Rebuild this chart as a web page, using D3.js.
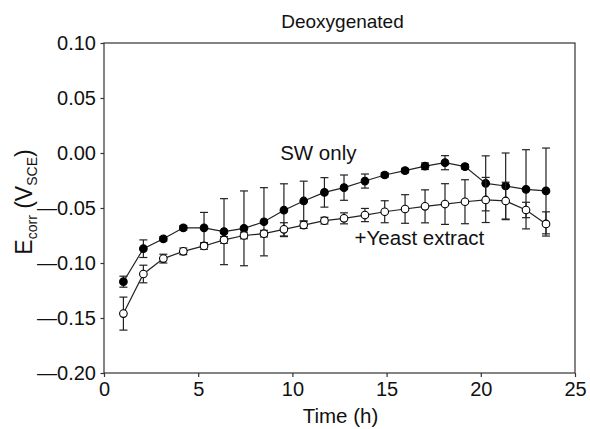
<!DOCTYPE html>
<html>
<head>
<meta charset="utf-8">
<script src="https://cdn.jsdelivr.net/npm/d3@7"></script>
<style>
  body { margin: 0; background: #fff; }
  text { font-family: "Liberation Sans", Arial, Helvetica, sans-serif; fill: #111; }
</style>
</head>
<body>
<div id="chart"></div>
<script>
// time (h)
var times = [1.03, 2.09, 3.15, 4.21, 5.31, 6.37, 7.43, 8.49, 9.55, 10.6, 11.7,
             12.74, 13.85, 14.9, 15.98, 17.04, 18.1, 19.16, 20.26, 21.32, 22.4, 23.46];

// SW only (filled)
var swOnly = [-0.117, -0.087, -0.078, -0.068, -0.068, -0.0715, -0.0685, -0.0625, -0.052, -0.0436, -0.0358,
              -0.0315, -0.0255, -0.020, -0.016, -0.012, -0.0088, -0.0124, -0.0276, -0.030, -0.033, -0.0345];
var swErr = [0.005, 0.008, 0.002, 0.002, 0.014, 0.030, 0.034, 0.031, 0.024, 0.018, 0.0134,
             0.0115, 0.0064, 0.002, 0.002, 0.003, 0.0064, 0.002, 0.025, 0.030, 0.036, 0.039];

// +Yeast extract (open)
var yeast = [-0.146, -0.110, -0.096, -0.0894, -0.0845, -0.079, -0.075, -0.0733, -0.0694, -0.0655, -0.0615,
             -0.0594, -0.0564, -0.0534, -0.0509, -0.0485, -0.0464, -0.0443, -0.0427, -0.0436, -0.0518, -0.0645];
var yeastErr = [0.015, 0.008, 0.004, 0.003, 0.003, 0.003, 0.003, 0.003, 0.006, 0.003, 0.003,
                0.005, 0.006, 0.010, 0.013, 0.015, 0.0185, 0.020, 0.0205, 0.017, 0.007, 0.011];

var xTicks = [0, 5, 10, 15, 20, 25];
var yTicks = [-0.20, -0.15, -0.10, -0.05, 0.00, 0.05, 0.10];

var margin = { top: 43, right: 15, bottom: 56, left: 104 };
var width = 590 - margin.left - margin.right,
    height = 429 - margin.top - margin.bottom;

var svg = d3.select("#chart").append("svg")
    .attr("width", 590)
    .attr("height", 429)
  .append("g")
    .attr("transform", "translate(" + margin.left + "," + margin.top + ")");

var x = d3.scaleLinear().domain([0, 25]).range([0, width]);
var y = d3.scaleLinear().domain([-0.20, 0.10]).range([height, 0]);

// frame
svg.append("rect")
    .attr("width", width)
    .attr("height", height)
    .attr("fill", "none")
    .attr("stroke", "#333")
    .attr("stroke-width", 1.2);

var xAxis = d3.axisBottom(x).tickValues(xTicks).tickSize(4).tickPadding(5).tickFormat(d3.format("d"));
var yAxis = d3.axisLeft(y).tickValues(yTicks).tickSize(3.5).tickPadding(4.5)
    .tickFormat(function(v) { return (v < -1e-9 ? "\u2014" : "") + Math.abs(v).toFixed(2); });

svg.append("g")
    .attr("class", "x-axis")
    .attr("transform", "translate(0," + height + ")")
    .call(xAxis);

svg.append("g")
    .attr("class", "y-axis")
    .call(yAxis);

svg.selectAll(".x-axis, .y-axis").select(".domain").remove();
svg.selectAll(".x-axis line, .y-axis line").attr("stroke", "#333").attr("stroke-width", 1.2);
svg.selectAll(".x-axis text, .y-axis text")
    .attr("font-size", 20)
    .attr("font-family", "Liberation Sans, Arial, sans-serif")
    .attr("fill", "#111");

// titles
svg.append("text")
    .attr("x", width / 2 + 3)
    .attr("y", -15)
    .attr("text-anchor", "middle")
    .attr("font-size", 19)
    .attr("fill", "#111")
    .text("Deoxygenated");

svg.append("text")
    .attr("x", width / 2 + 1)
    .attr("y", height + 50)
    .attr("text-anchor", "middle")
    .attr("font-size", 20.5)
    .attr("fill", "#111")
    .text("Time (h)");

var yl = svg.append("text")
    .attr("transform", "translate(-72," + (height / 2 - 6) + ") rotate(-90)")
    .attr("text-anchor", "middle")
    .attr("fill", "#111")
    .attr("font-size", 23);
yl.append("tspan").text("E");
yl.append("tspan").attr("font-size", 14).attr("dy", 5).text("corr");
yl.append("tspan").attr("dy", -5).text(" (V");
yl.append("tspan").attr("font-size", 14).attr("dy", 5).text("SCE");
yl.append("tspan").attr("dy", -5).text(")");

// series
var series = [
  { name: "sw", values: swOnly, errs: swErr, fill: "#000" },
  { name: "yeast", values: yeast, errs: yeastErr, fill: "#fff" }
];

var line = d3.line()
    .x(function(d) { return x(d.t); })
    .y(function(d) { return y(d.v); });

var capW = 4;

series.forEach(function(s) {
  var pts = times.map(function(t, i) { return { t: t, v: s.values[i], e: s.errs[i] }; });
  var g = svg.append("g").attr("class", "series-" + s.name);

  var eb = g.selectAll(".err").data(pts).enter().append("g").attr("class", "err")
      .attr("stroke", "#222").attr("stroke-width", 1.2);
  eb.append("line")
      .attr("x1", function(d) { return x(d.t); })
      .attr("x2", function(d) { return x(d.t); })
      .attr("y1", function(d) { return y(d.v + d.e); })
      .attr("y2", function(d) { return y(d.v - d.e); });
  eb.append("line")
      .attr("x1", function(d) { return x(d.t) - capW; })
      .attr("x2", function(d) { return x(d.t) + capW; })
      .attr("y1", function(d) { return y(d.v + d.e); })
      .attr("y2", function(d) { return y(d.v + d.e); });
  eb.append("line")
      .attr("x1", function(d) { return x(d.t) - capW; })
      .attr("x2", function(d) { return x(d.t) + capW; })
      .attr("y1", function(d) { return y(d.v - d.e); })
      .attr("y2", function(d) { return y(d.v - d.e); });

  g.append("path")
      .datum(pts)
      .attr("fill", "none")
      .attr("stroke", "#222")
      .attr("stroke-width", 1.2)
      .attr("d", line);

  g.selectAll("circle").data(pts).enter().append("circle")
      .attr("cx", function(d) { return x(d.t); })
      .attr("cy", function(d) { return y(d.v); })
      .attr("r", 3.8)
      .attr("fill", s.fill)
      .attr("stroke", "#000")
      .attr("stroke-width", 1.1);
});

// annotations
svg.append("text")
    .attr("x", x(9.35))
    .attr("y", y(-0.006))
    .attr("font-size", 20.5)
    .attr("fill", "#111")
    .text("SW only");

svg.append("text")
    .attr("x", x(13.3))
    .attr("y", y(-0.0836))
    .attr("font-size", 20.5)
    .attr("fill", "#111")
    .text("+Yeast extract");
</script>
</body>
</html>
